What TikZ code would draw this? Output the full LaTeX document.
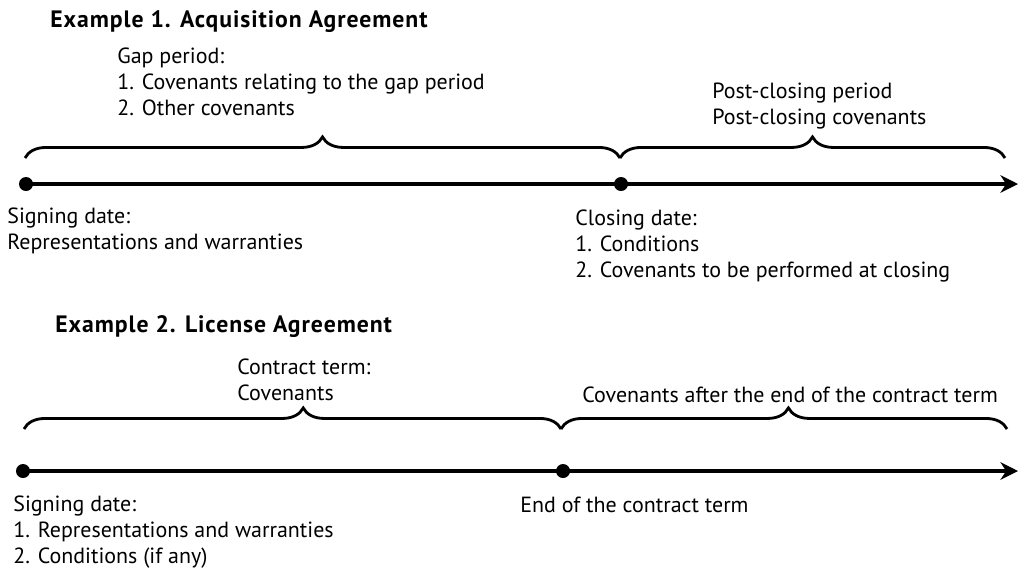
\documentclass[tikz,border=0pt]{standalone}
\usepackage{fontspec}
\setmainfont{PT Sans}
\usetikzlibrary{arrows.meta, decorations.pathreplacing}

\begin{document}
\begin{tikzpicture}[x=0.02cm, y=-0.02cm,
		titlestyle/.style={anchor=base west, inner sep=0pt, font=\bfseries\fontsize{13.5}{15}\selectfont\addfontfeature{LetterSpace=4}},
		labelstyle/.style={anchor=base west, inner sep=0pt, align=left, font=\fontsize{12.5}{14.6}\selectfont},
		datedot/.style={circle, fill, inner sep=0pt, minimum size=14*0.02cm},
		timeline/.style={line width=2pt, -{Stealth[length=10pt, width=10pt]}},
		periodbrace/.style={line width=1.6pt, decorate, decoration={brace, amplitude=12pt}}
	]
		\useasboundingbox (0,0) rectangle (1020,569);

		% Example 1 (multi-line labels sit on the baseline of their last line)
		\node[titlestyle] (title1) at (50,27) {Example 1. Acquisition Agreement};
		\node[labelstyle] (gap) at (117,115) {Gap period:\\1. Covenants relating to the gap period\\2. Other covenants};
		\node[labelstyle] (post) at (712,124) {Post-closing period\\Post-closing covenants};
		\node[datedot] (sign1) at (26,184) {};
		\node[datedot] (close) at (621,184) {};
		\coordinate (end1) at (1018,184);
		\node[labelstyle] (signtext1) at (7,249) {Signing date:\\Representations and warranties};
		\node[labelstyle] (closetext) at (575,277) {Closing date:\\1. Conditions\\2. Covenants to be performed at closing};

		\coordinate (gapL) at (25,158);
		\coordinate (gapR) at (620,158);
		\coordinate (postR) at (1005,158);
		\draw[periodbrace] (gapL) -- (gapR);
		\draw[periodbrace] (gapR) -- (postR);
		\draw[timeline] (sign1.center) -- (end1);

		% Example 2
		\node[titlestyle] (title2) at (55,332) {Example 2. License Agreement};
		\node[labelstyle] (term) at (237,400) {Contract term:\\Covenants};
		\node[labelstyle] (after) at (582,402) {Covenants after the end of the contract term};
		\node[datedot] (sign2) at (23,471) {};
		\node[datedot] (termend) at (563,471) {};
		\coordinate (end2) at (1018,471);
		\node[labelstyle] (signtext2) at (13,563) {Signing date:\\1. Representations and warranties\\2. Conditions (if any)};
		\node[labelstyle] (endtext) at (520,512) {End of the contract term};

		\coordinate (termL) at (24,429);
		\coordinate (termR) at (561,429);
		\coordinate (afterR) at (1007,429);
		\draw[periodbrace, decoration={aspect=0.52}] (termL) -- (termR);
		\draw[periodbrace, decoration={aspect=0.51}] (termR) -- (afterR);
		\draw[timeline] (sign2.center) -- (end2);
	\end{tikzpicture}
\end{document}
